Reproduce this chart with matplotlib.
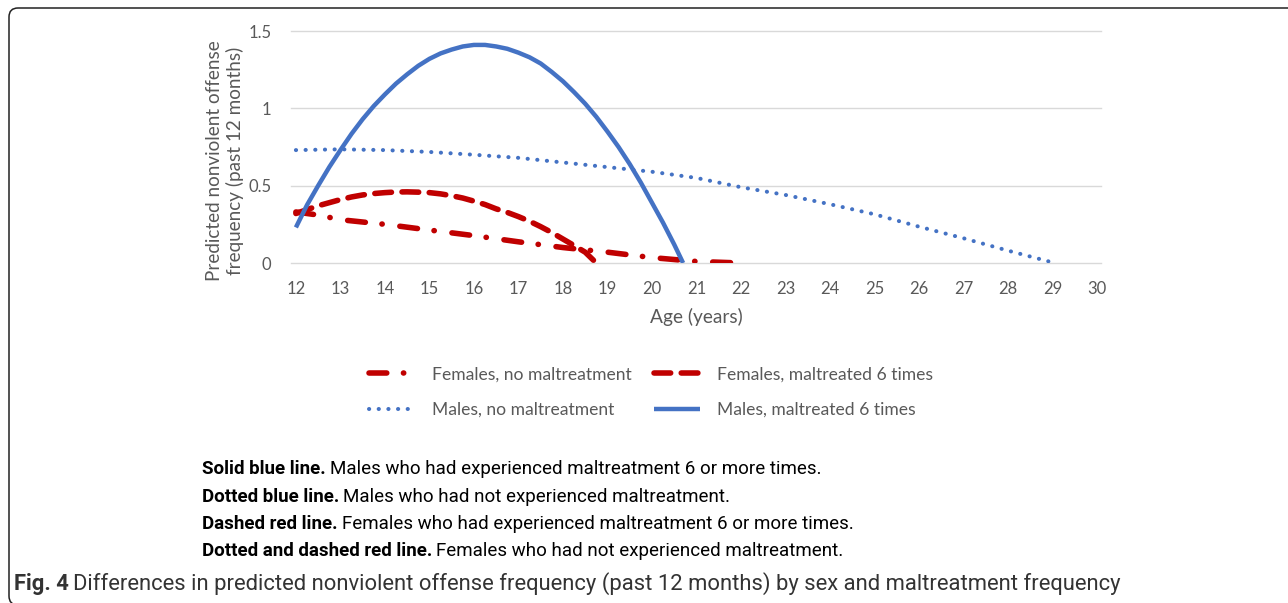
import matplotlib
matplotlib.use('Agg')
import matplotlib.pyplot as plt
from matplotlib.patches import FancyBboxPatch
from matplotlib.transforms import IdentityTransform

# ---------------- data ----------------
ages_m_mal = [12, 12.25, 12.5, 12.75, 13, 13.25, 13.5, 13.75, 14, 14.25, 14.5, 14.75, 15, 15.25, 15.5,
              15.75, 16, 16.25, 16.5, 16.75, 17, 17.25, 17.5, 17.75, 18, 18.25, 18.5, 18.75, 19, 19.25,
              19.5, 19.75, 20, 20.25, 20.5, 20.7]
vals_m_mal = [0.23, 0.375, 0.50, 0.62, 0.73, 0.835, 0.93, 1.015, 1.09, 1.16, 1.22, 1.275, 1.32, 1.355, 1.38,
              1.40, 1.41, 1.41, 1.40, 1.385, 1.36, 1.33, 1.29, 1.235, 1.175, 1.105, 1.03, 0.945, 0.85, 0.75,
              0.64, 0.52, 0.39, 0.26, 0.12, 0.0]

ages_m_no = [12, 13, 14, 15, 16, 17, 18, 19, 20, 21, 22, 23, 24, 25, 26, 27, 28, 29.05]
vals_m_no = [0.73, 0.735, 0.73, 0.718, 0.70, 0.68, 0.65, 0.62, 0.59, 0.55, 0.49, 0.44, 0.38, 0.315, 0.235, 0.16, 0.08, 0.0]

ages_f_mal = [12, 12.25, 12.5, 12.75, 13, 13.25, 13.5, 13.75, 14, 14.25, 14.5, 14.75, 15, 15.25, 15.5, 15.75,
              16, 16.25, 16.5, 16.75, 17, 17.25, 17.5, 17.75, 18, 18.25, 18.5, 18.75]
vals_f_mal = [0.32, 0.345, 0.37, 0.39, 0.41, 0.427, 0.44, 0.449, 0.455, 0.459, 0.46, 0.458, 0.455, 0.447, 0.435, 0.42,
              0.40, 0.378, 0.35, 0.327, 0.30, 0.27, 0.235, 0.197, 0.155, 0.113, 0.07, 0.0]

ages_f_no = [12, 12.5, 13, 14, 15, 16, 17, 18, 19, 20, 21, 22]
vals_f_no = [0.33, 0.31, 0.28, 0.25, 0.213, 0.177, 0.137, 0.10, 0.07, 0.035, 0.01, 0.0]

x_ticks = list(range(12, 31))
y_ticks = [0, 0.5, 1, 1.5]
y_ticklabels = ['0', '0.5', '1', '1.5']

labels = ['Females, no maltreatment', 'Males, no maltreatment',
          'Females, maltreated 6 times', 'Males, maltreated 6 times']

caption_lines = [
    ('Solid blue line.', 'Males who had experienced maltreatment 6 or more times.'),
    ('Dotted blue line.', 'Males who had not experienced maltreatment.'),
    ('Dashed red line.', 'Females who had experienced maltreatment 6 or more times.'),
    ('Dotted and dashed red line.', 'Females who had not experienced maltreatment.'),
]
fig_caption = ('Fig. 4', 'Differences in predicted nonviolent offense frequency (past 12 months) by sex and maltreatment frequency')

# ---------------- style ----------------
BLUE = '#4472C4'
RED = '#C00000'
GRAY = '#595959'
AX_FONT = ['Lato', 'DejaVu Sans']
CAP_FONT = ['Roboto', 'DejaVu Sans']

W, H = 1288, 603
fig = plt.figure(figsize=(W / 100, H / 100), dpi=100)
fig.patch.set_facecolor('white')

ax = fig.add_axes([291 / W, 1 - 263 / H, (1101 - 291) / W, (263 - 31) / H])
ax.set_xlim(11.89, 30.09)
ax.set_ylim(0, 1.5)

l_fno, = ax.plot(ages_f_no, vals_f_no, color=RED, lw=4.0,
                 dashes=(3.2, 3.0, 0.05, 3.2), dash_capstyle='round', dash_joinstyle='round')
l_fmal, = ax.plot(ages_f_mal, vals_f_mal, color=RED, lw=4.0,
                  dashes=(3.0, 1.9), dash_capstyle='round', dash_joinstyle='round')
l_mno, = ax.plot(ages_m_no, vals_m_no, color=BLUE, lw=2.9,
                 dashes=(0.05, 2.35), dash_capstyle='round')
l_mmal, = ax.plot(ages_m_mal, vals_m_mal, color=BLUE, lw=3.2, solid_capstyle='butt',
                  solid_joinstyle='round')

ax.set_xticks(x_ticks)
ax.set_xticklabels([str(t) for t in x_ticks])
ax.set_yticks(y_ticks)
ax.set_yticklabels(y_ticklabels)
ax.tick_params(length=0, labelsize=12, labelcolor=GRAY)
ax.tick_params(axis='x', pad=13)
ax.tick_params(axis='y', pad=14)
for lab in ax.get_xticklabels() + ax.get_yticklabels():
    lab.set_family(AX_FONT)
ax.grid(axis='y', color='#D9D9D9', lw=1.0)
for gl in ax.get_ygridlines():
    gl.set_clip_on(False)
ax.set_axisbelow(True)
for s in ax.spines.values():
    s.set_visible(False)

ax.set_xlabel('Age (years)', fontsize=13.8, color=GRAY, family=AX_FONT, labelpad=8)
ax.set_ylabel('Predicted nonviolent offense\nfrequency (past 12 months)', fontsize=13.6,
              color=GRAY, family=AX_FONT, linespacing=1.2)
ax.yaxis.set_label_coords(-0.058, 0.44)

leg = ax.legend([l_fno, l_mno, l_fmal, l_mmal], labels, ncol=2, frameon=False,
                loc='center', bbox_to_anchor=(651 / W, 1 - 392 / H),
                bbox_transform=fig.transFigure, handlelength=2.6, handletextpad=1.0,
                columnspacing=1.3, labelspacing=1.1,
                prop={'family': AX_FONT, 'size': 12.6})
for t in leg.get_texts():
    t.set_color(GRAY)

# ---------------- frame ----------------
frame = FancyBboxPatch((9, H - 605), 1500, 605 - 8,
                       boxstyle='round,pad=0,rounding_size=9',
                       transform=IdentityTransform(), fill=False,
                       edgecolor='#222222', lw=1.1)
fig.patches.append(frame)

# ---------------- caption ----------------
renderer = fig.canvas.get_renderer()

def rich(x_px, base_px, bold, regular, size, color):
    t1 = fig.text(x_px / W, 1 - base_px / H, bold, fontweight='bold', fontsize=size,
                  color=color, family=CAP_FONT, va='baseline', ha='left')
    bb = t1.get_window_extent(renderer)
    fig.text((bb.x1 + 4) / W, 1 - base_px / H, regular, fontsize=size,
             color=color, family=CAP_FONT, va='baseline', ha='left')

for i, (b, r) in enumerate(caption_lines):
    rich(202, 474 + i * 27.5, b, r, 13.5, 'black')

rich(14, 590, fig_caption[0], fig_caption[1], 15.8, '#333333')

fig.savefig('out.png', dpi=100, facecolor='white')
